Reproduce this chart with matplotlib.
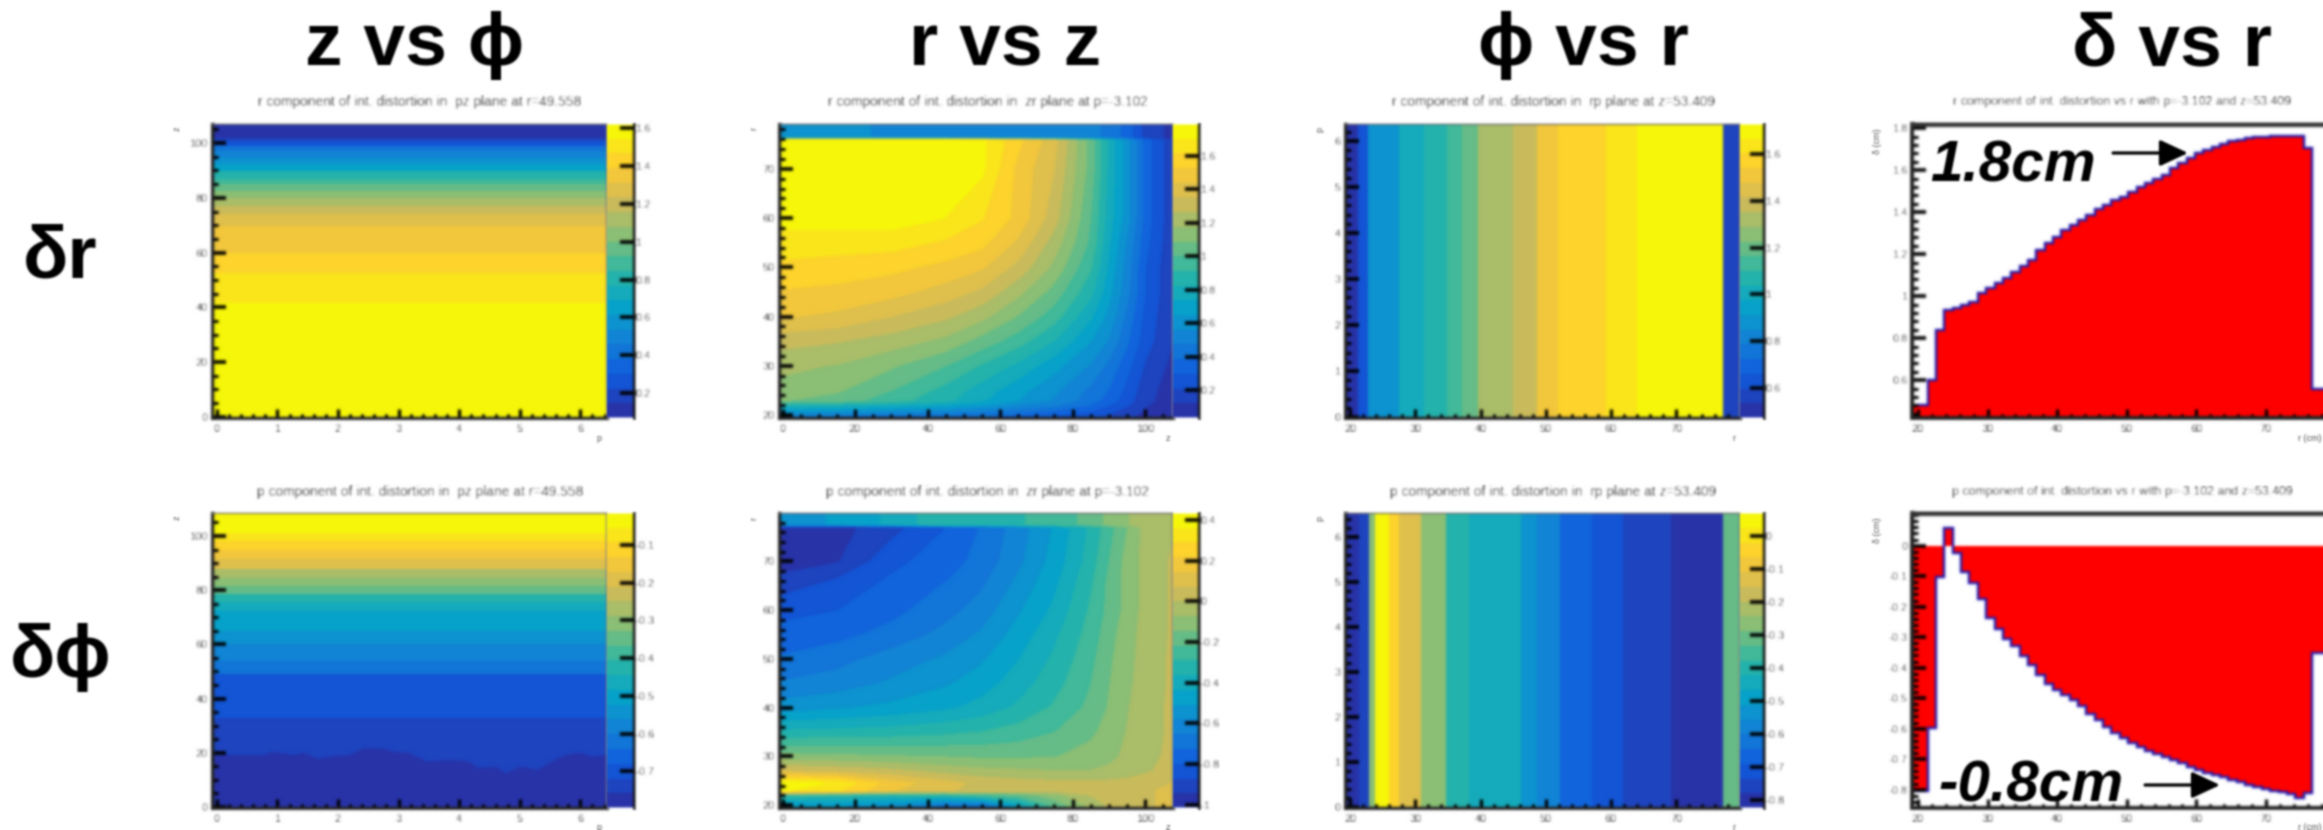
import numpy as np
import matplotlib
matplotlib.use("Agg")
import matplotlib.pyplot as plt
from matplotlib.colors import LinearSegmentedColormap, Normalize
from matplotlib.patches import FancyArrowPatch
from matplotlib.ticker import MultipleLocator

plt.rcParams['font.family'] = ['Liberation Sans', 'DejaVu Sans']

W, H = 2323, 830
DPI = 100
PX = 72 / DPI

# ---------------- data ----------------
headers = ["z vs ϕ", "r vs z", "ϕ vs r", "δ vs r"]
row_names = ["δr", "δϕ"]

phi_span = [-0.08, 6.44]
r_span = [19.2, 79.8]

# z vs phi: bands along z
dr_z_edges = [-1, 41.7, 52.7, 60, 65.5, 69.7, 74, 77, 80, 82.5, 85, 87, 89.8, 92.2, 94.6, 97, 99, 100.7, 102, 109]
dr_z_vals = [1.61, 1.5, 1.44, 1.38, 1.32, 1.26, 1.2, 1.12, 1.05, .97, .88, .78, .69, .6, .5, .41, .3, .2, .09]
dp_z_edges = [-1, 33, 42, 49, 54, 60, 65, 69, 72.5, 75.5, 78.5, 81.5, 84.5, 88, 91.5, 95, 98, 101, 109]
dp_z_vals = [-.75, -.71, -.68, -.64, -.6, -.56, -.52, -.49, -.45, -.41, -.36, -.31, -.26, -.2, -.15, -.1, -.06, -.02]
dp_edge_phi = [-.08, .78, .89, 1.27, 1.42, 1.65, 1.95, 2.18, 2.41, 2.71, 2.94, 3.17, 3.47, 3.85, 4.15, 4.3, 4.6, 4.76, 5, 5.29, 5.52, 5.74, 5.97, 6.2, 6.44]
dp_edge_z = [19.3, 19.3, 20.5, 19.3, 20.1, 18, 19, 19.3, 21.7, 21.7, 20.5, 19.9, 16.9, 17.5, 16.9, 14.5, 15, 12.6, 15, 13.8, 16.9, 19.3, 20.1, 18.7, 19.5]
dp_edge_val = -.785

# r vs z: coarse matrix
rz_cols = [-2, 15, 30, 45, 55, 65, 75, 85, 90, 95, 100, 109]
dr_rows = [19, 20, 22, 23, 25, 30, 35, 40, 45, 50, 55, 60, 70, 75.8, 76.3, 80]
dr_matrix = [
    [.45, .45, .42, .4, .38, .34, .28, .24, .2, .15, .1, .05],
    [.5, .48, .45, .42, .4, .36, .3, .25, .2, .15, .1, .05],
    [.85, .82, .78, .72, .65, .55, .48, .38, .3, .22, .13, .06],
    [1.1, 1.05, .95, .85, .75, .65, .55, .43, .35, .25, .15, .06],
    [1.15, 1.1, 1.0, .88, .78, .68, .58, .45, .38, .27, .16, .06],
    [1.2, 1.17, 1.1, 1.0, .9, .8, .68, .55, .45, .33, .2, .08],
    [1.3, 1.27, 1.22, 1.15, 1.05, .95, .82, .65, .55, .4, .25, .1],
    [1.45, 1.42, 1.35, 1.28, 1.2, 1.08, .95, .75, .62, .45, .27, .1],
    [1.52, 1.5, 1.47, 1.4, 1.33, 1.2, 1.05, .85, .68, .5, .3, .1],
    [1.6, 1.58, 1.55, 1.5, 1.45, 1.32, 1.15, .92, .72, .52, .3, .1],
    [1.65, 1.65, 1.65, 1.6, 1.55, 1.42, 1.22, .98, .75, .55, .33, .1],
    [1.75, 1.75, 1.75, 1.7, 1.62, 1.5, 1.3, 1.0, .78, .6, .35, .1],
    [1.75, 1.75, 1.75, 1.75, 1.72, 1.5, 1.35, 1.05, .8, .6, .35, .1],
    [1.75, 1.75, 1.75, 1.75, 1.72, 1.55, 1.38, 1.05, .8, .6, .35, .1],
    [.6, .58, .55, .55, .5, .55, .5, .5, .45, .35, .18, .08],
    [.6, .58, .55, .55, .5, .55, .5, .5, .45, .35, .18, .08],
]
dp_rows = [19, 20, 22, 23, 24.5, 27, 30, 35, 40, 45, 50, 55, 60, 65, 70, 77, 77.6, 81]
dp_matrix = [
    [-.5, -.5, -.55, -.68, -.7, -.45, -.2, -.05, .01, .03, .05, .12],
    [-.5, -.5, -.55, -.68, -.7, -.45, -.2, -.05, .01, .03, .05, .12],
    [-.3, -.32, -.35, -.33, -.25, -.2, -.1, 0, .02, .03, .05, .12],
    [.38, .3, .15, .08, .05, .03, .02, .02, .03, .03, .05, .12],
    [.42, .35, .18, .1, .05, .03, .02, .02, .02, .02, .03, .08],
    [.08, .05, .02, -.03, -.05, -.06, -.07, -.07, -.06, -.03, -.01, .03],
    [-.12, -.13, -.14, -.15, -.16, -.16, -.15, -.12, -.09, -.06, -.02, .02],
    [-.35, -.34, -.33, -.31, -.29, -.26, -.22, -.16, -.12, -.07, -.03, .02],
    [-.55, -.52, -.49, -.45, -.41, -.35, -.28, -.2, -.14, -.08, -.03, .02],
    [-.65, -.62, -.57, -.52, -.47, -.4, -.32, -.22, -.15, -.09, -.04, .02],
    [-.72, -.68, -.62, -.57, -.52, -.44, -.35, -.24, -.16, -.1, -.04, .02],
    [-.78, -.75, -.7, -.63, -.57, -.48, -.38, -.26, -.18, -.1, -.05, .02],
    [-.82, -.8, -.75, -.68, -.62, -.52, -.42, -.28, -.2, -.12, -.05, .02],
    [-.92, -.84, -.78, -.72, -.66, -.56, -.45, -.3, -.2, -.12, -.05, .02],
    [-.97, -.95, -.82, -.76, -.7, -.6, -.48, -.33, -.22, -.12, -.05, .02],
    [-.97, -.97, -.9, -.8, -.72, -.62, -.5, -.35, -.25, -.15, -.05, 0],
    [-.55, -.5, -.42, -.3, -.3, -.3, -.25, -.2, -.12, -.08, -.02, 0],
    [-.55, -.5, -.42, -.3, -.3, -.3, -.25, -.2, -.12, -.08, -.02, 0],
]

# phi vs r: bands along r
dr_r_edges = [19.2, 21.2, 22.7, 27.5, 31.3, 34.8, 37.2, 39.6, 45, 48.7, 51.9, 55.5, 59.2, 64, 77.2, 79.8]
dr_r_vals = [.48, .62, .89, .98, 1.07, 1.14, 1.2, 1.3, 1.4, 1.48, 1.55, 1.6, 1.66, 1.72, .58]
dp_r_edges = [19.2, 21.3, 22.9, 23.8, 25.9, 27.5, 30.9, 34.7, 38.2, 46.2, 48.7, 52.2, 57.1, 61.9, 69.2, 77.2, 79.8]
dp_r_vals = [-.81, -.74, -.27, .06, -.06, -.15, -.27, -.38, -.46, -.53, -.6, -.66, -.72, -.76, -.815, -.32]

# delta vs r: histograms
bin_start, bin_width = 19.0, 1.2
dr_hist = [.48, .48, .6, .84,
           .934, .942, .958, .974, 1.017, 1.037, 1.061, 1.088, 1.117, 1.144,
           1.172, 1.22, 1.252, 1.284, 1.315, 1.339, 1.363, 1.387, 1.414, 1.435,
           1.459, 1.474, 1.498, 1.519, 1.538, 1.557, 1.578, 1.61, 1.633, 1.657,
           1.681, 1.697, 1.71, 1.726, 1.737, 1.745, 1.753, 1.757, 1.76, 1.764,
           1.765, 1.765, 1.764, 1.705, .56, .56, .56]
dp_hist = [-.805, -.805, -.597, -.104,
           .058, -.024, -.088, -.123, -.175, -.236, -.274, -.307, -.329, -.362,
           -.39, -.425, -.455, -.473, -.488, -.507, -.527, -.552, -.572, -.595,
           -.614, -.63, -.647, -.661, -.673, -.683, -.692, -.704, -.714, -.724,
           -.734, -.745, -.753, -.76, -.767, -.775, -.783, -.791, -.797, -.803,
           -.809, -.815, -.827, -.812, -.351, -.351, -.351]

# titles
titles = [
    ["r component of int. distortion in  pz plane at r=49.558",
     "r component of int. distortion in  zr plane at p=-3.102",
     "r component of int. distortion in  rp plane at z=53.409",
     "r component of int. distortion vs r with p=-3.102 and z=53.409"],
    ["p component of int. distortion in  pz plane at r=49.558",
     "p component of int. distortion in  zr plane at p=-3.102",
     "p component of int. distortion in  rp plane at z=53.409",
     "p component of int. distortion vs r with p=-3.102 and z=53.409"],
]

# colour-scale ranges and ticks
cb_range = [[(.07, 1.62), (.035, 1.79), (.47, 1.73)],
            [(-.797, -.016), (-1.016, .435), (-.825, .069)]]
cb_ticks = [[[1.6, 1.4, 1.2, 1, .8, .6, .4, .2],
             [1.6, 1.4, 1.2, 1, .8, .6, .4, .2],
             [1.6, 1.4, 1.2, 1, .8, .6]],
            [[-.1, -.2, -.3, -.4, -.5, -.6, -.7],
             [.4, .2, 0, -.2, -.4, -.6, -.8, -1],
             [0, -.1, -.2, -.3, -.4, -.5, -.6, -.7, -.8]]]

# axis limits per row
zphi_ylim = [(-.5, 107), (-.4, 108.5)]
rz_ylim = [(19.4, 79.1), (19.4, 79.95)]
phir_ylim = [(-.02, 6.37), (-.02, 6.53)]

# ---------------- layout (pixels) ----------------
ROW_Y = [(124, 418), (513, 808)]
COL_X = [(212, 607), (779, 1173), (1345, 1740), (1912, 2323)]
CB_X = [(607, 634), (1173, 1199), (1740, 1764)]

stops = [0, .125, .25, .375, .5, .625, .75, .875, 1]
cols = [(0.16, 0.20, 0.66), (0.06, 0.36, 0.87), (0.078, 0.504, 0.8385), (0.0232, 0.6419, 0.7914),
        (0.18, 0.7178, 0.6425), (0.5301, 0.7492, 0.4662), (0.8186, 0.7328, 0.3499),
        (0.9956, 0.80, 0.1968), (0.97, 0.97, 0.04)]
bird = LinearSegmentedColormap.from_list("bird", list(zip(stops, cols)), N=256).resampled(20)


def blur(image, dpi):
    """Soft blur like the upscaled original slide."""
    kernel = np.array([.06, .24, .40, .24, .06])
    out = image
    for axis in (0, 1):
        pad = [(2, 2) if a == axis else (0, 0) for a in range(3)]
        padded = np.pad(out, pad, mode='edge')
        acc = np.zeros_like(out)
        n = out.shape[axis]
        for i, w in enumerate(kernel):
            acc += w * np.take(padded, range(i, i + n), axis=axis)
        out = acc
    return out, 0, 0


fig = plt.figure(figsize=(W / DPI, H / DPI), dpi=DPI)


def make_axes(x0, x1, y0, y1):
    return fig.add_axes([x0 / W, 1 - y1 / H, (x1 - x0) / W, (y1 - y0) / H])


def ftext(x, y, s, **kw):
    return fig.text(x / W, 1 - y / H, s, **kw)


def style(ax, xmaj, xmin, ymaj, ymin, lw=2.0):
    ax.xaxis.set_major_locator(MultipleLocator(xmaj))
    ax.xaxis.set_minor_locator(MultipleLocator(xmin))
    ax.yaxis.set_major_locator(MultipleLocator(ymaj))
    ax.yaxis.set_minor_locator(MultipleLocator(ymin))
    ax.tick_params(axis='x', which='major', direction='in', length=9 * PX, width=3.2 * PX,
                   color='#000000', labelsize=8, labelcolor='#222222', pad=4)
    ax.tick_params(axis='x', which='minor', direction='in', length=4 * PX, width=3 * PX, color='#000000')
    ax.tick_params(axis='y', which='major', direction='in', length=14 * PX, width=3.6 * PX,
                   color='#000000', labelsize=8, labelcolor='#222222', pad=3)
    ax.tick_params(axis='y', which='minor', direction='in', length=6 * PX, width=3 * PX, color='#000000')
    for side in ('left', 'bottom'):
        ax.spines[side].set_linewidth(lw * PX * 1.7)
        ax.spines[side].set_color('#222222')
    for side in ('top', 'right'):
        ax.spines[side].set_linewidth(1.5 * PX)
        ax.spines[side].set_color('#666666')
    ax.set_agg_filter(blur)


def add_colorbar(mesh, row, col):
    cax = make_axes(CB_X[col][0], CB_X[col][1], *ROW_Y[row])
    cb = fig.colorbar(mesh, cax=cax)
    ticks = cb_ticks[row][col]
    cb.set_ticks(ticks, labels=[f"{t:g}" for t in ticks])
    cb.minorticks_off()
    cb.outline.set_visible(False)
    cax.spines['right'].set_visible(True)
    cax.spines['right'].set_linewidth(3 * PX)
    cax.spines['right'].set_color('#111111')
    cax.tick_params(axis='y', direction='in', length=14 * PX, width=3.6 * PX, color='#000000',
                    labelsize=8, labelcolor='#222222', pad=1)
    cax.set_agg_filter(blur)


def heat_norm(row, col):
    return Normalize(*cb_range[row][col])


for row in range(2):
    # z vs phi
    ax = make_axes(COL_X[0][0], COL_X[0][1], *ROW_Y[row])
    z_e, z_v = (dr_z_edges, dr_z_vals) if row == 0 else (dp_z_edges, dp_z_vals)
    m = ax.pcolormesh(phi_span, z_e, np.array(z_v)[:, None], cmap=bird, norm=heat_norm(row, 0))
    if row == 1:
        ax.fill_between(dp_edge_phi, -1, dp_edge_z, color=bird(heat_norm(row, 0)(dp_edge_val)), lw=0)
    ax.set_xlim(phi_span)
    ax.set_ylim(zphi_ylim[row])
    style(ax, 1, .2, 20, 5)
    add_colorbar(m, row, 0)

    # r vs z
    ax = make_axes(COL_X[1][0], COL_X[1][1], *ROW_Y[row])
    rows_, mat = (dr_rows, dr_matrix) if row == 0 else (dp_rows, dp_matrix)
    lo, hi = cb_range[row][1]
    levels = np.linspace(lo, hi, 21)
    m = ax.contourf(rz_cols, rows_, np.array(mat), levels=levels, cmap=bird, norm=heat_norm(row, 1), extend='both')
    ax.set_xlim(-1, 107.7)
    ax.set_ylim(rz_ylim[row])
    style(ax, 20, 5, 10, 2)
    sm = plt.cm.ScalarMappable(norm=heat_norm(row, 1), cmap=bird)
    add_colorbar(sm, row, 1)

    # phi vs r
    ax = make_axes(COL_X[2][0], COL_X[2][1], *ROW_Y[row])
    r_e, r_v = (dr_r_edges, dr_r_vals) if row == 0 else (dp_r_edges, dp_r_vals)
    m = ax.pcolormesh(r_e, [-1, 8], np.array(r_v)[None, :], cmap=bird, norm=heat_norm(row, 2))
    ax.set_xlim(r_span)
    ax.set_ylim(phir_ylim[row])
    style(ax, 10, 2, 1, .2)
    add_colorbar(m, row, 2)

    # delta vs r
    ax = make_axes(COL_X[3][0], COL_X[3][1], *ROW_Y[row])
    hist = dr_hist if row == 0 else dp_hist
    edges = bin_start + bin_width * np.arange(len(hist) + 1)
    ax.stairs(hist, edges, baseline=0, fill=True, color='#ff0000', lw=0)
    ax.stairs(hist, edges, baseline=None, color='#1c1cb0', lw=2.4 * PX)
    ax.set_xlim(19.14, 19.14 + (COL_X[3][1] - COL_X[3][0]) / 6.96)
    if row == 0:
        ax.set_ylim(.42, 1.82)
        style(ax, 10, 2, .2, .04, lw=2.4)
        yt = [.6, .8, 1, 1.2, 1.4, 1.6, 1.8]
    else:
        ax.set_ylim(-.86, .107)
        style(ax, 10, 2, .1, .02, lw=2.4)
        yt = [0, -.1, -.2, -.3, -.4, -.5, -.6, -.7, -.8]
    ax.set_yticks(yt, labels=[f"{t:g}" for t in yt])
    ax.spines['top'].set_linewidth(5 * PX)
    ax.spines['top'].set_color('#333333')
    ax.spines['right'].set_visible(False)

# panel titles
title_cx = [420, 988, 1553, 2122]
title_fs = [9.9, 9.9, 9.9, 8.9]
title_y = [102, 492]
for r in range(2):
    for c in range(4):
        t = ftext(title_cx[c], title_y[r], titles[r][c], ha='center', va='center',
                  fontsize=title_fs[c], color='#222222')
        t.set_agg_filter(blur)

# tiny axis names
y_names = [(177, "z"), (754, "r"), (1320, "p")]
x_names = [(599, "p"), (1168, "z"), (1734, "r")]
for dy in (0, 389):
    for x, s in y_names:
        ftext(x, 129 + dy, s, ha='center', va='center', fontsize=6.5, rotation=90, color='#555555')
    for x, s in x_names:
        ftext(x, 438 + dy, s, ha='center', va='center', fontsize=6.5, color='#555555')
    ftext(1877, 141 + dy, "δ (cm)", ha='center', va='center', fontsize=6.5, rotation=90, color='#555555')
    ftext(2321, 438 + dy, "r (cm)", ha='right', va='center', fontsize=6.5, color='#555555')

# big headers and row labels
big = dict(fontweight='bold', fontsize=54, color='black', va='baseline', ha='center')
header_cx = [415, 1005, 1583, 2172]
for cx, s in zip(header_cx, headers):
    ftext(cx, 65, s, **big)
ftext(60, 277, row_names[0], **big)
ftext(61, 677, row_names[1], **big)

# annotations
note = dict(fontweight='bold', fontstyle='italic', fontsize=42, color='black', va='baseline', ha='left')
ftext(1930, 182, "1.8cm", **note)
ftext(1938, 801, "-0.8cm", **note)
for (xa, xb, y) in [(2113, 2188, 153), (2145, 2220, 785)]:
    fig.add_artist(FancyArrowPatch((xa / W, 1 - y / H), (xb / W, 1 - y / H), transform=fig.transFigure,
                                   arrowstyle='-|>,head_length=0.9,head_width=0.42', mutation_scale=19,
                                   lw=3.2 * PX, color='black', shrinkA=0, shrinkB=0))

fig.set_agg_filter(blur)
fig.savefig("out.png", dpi=DPI, facecolor='white')
